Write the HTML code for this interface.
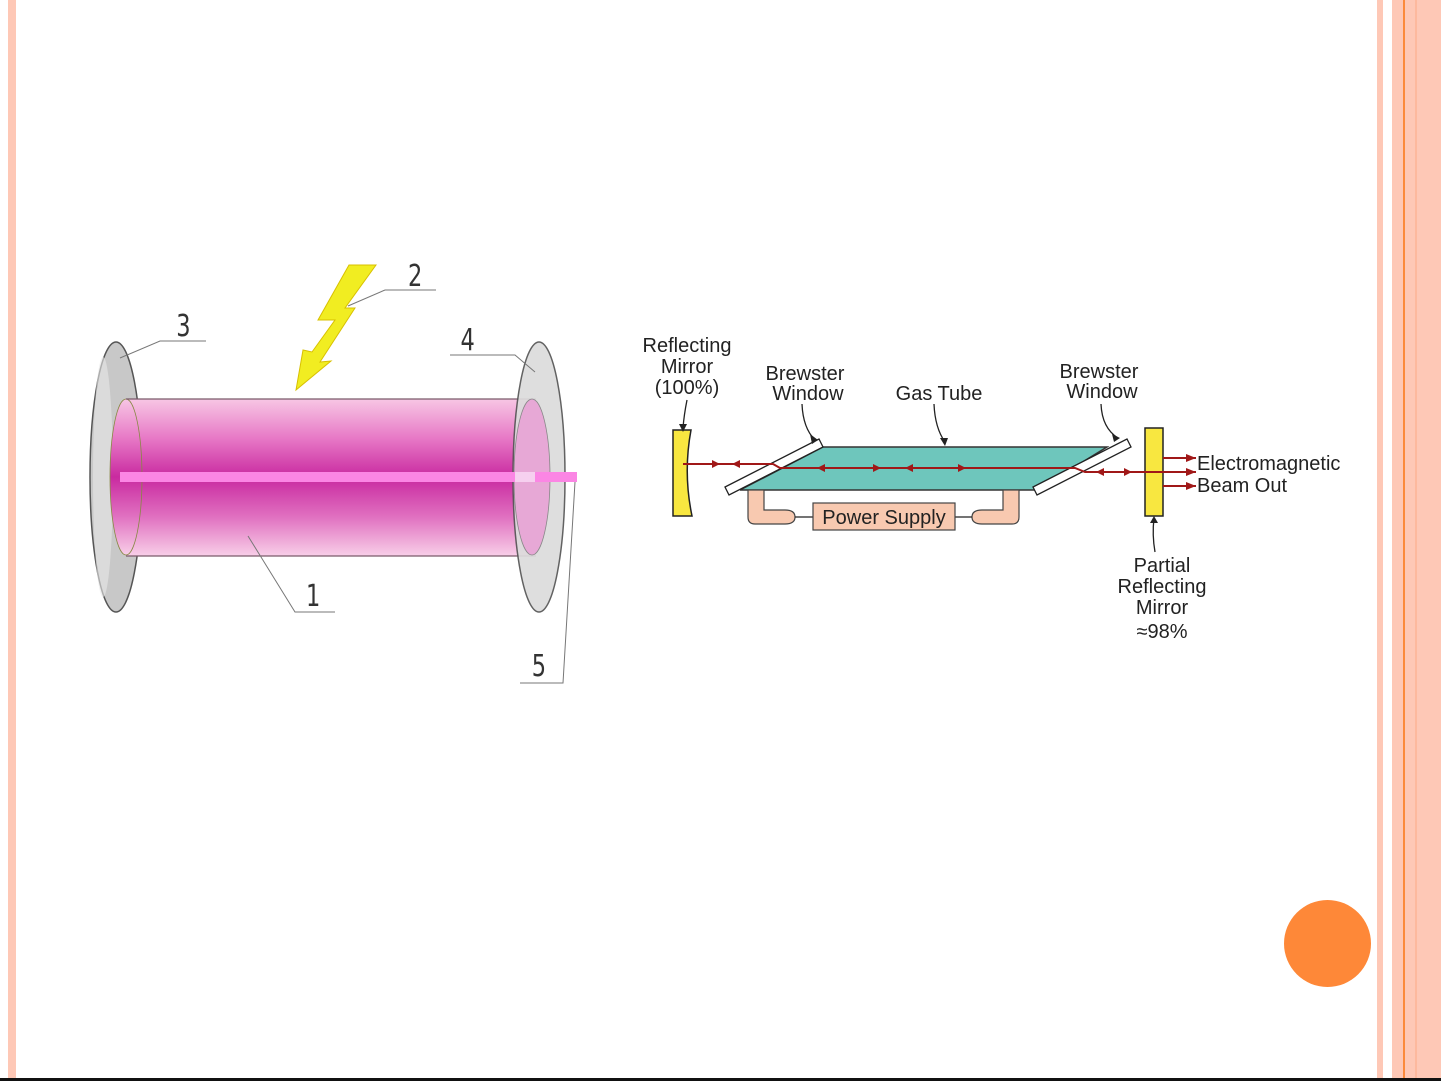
<!DOCTYPE html>
<html><head><meta charset="utf-8"><style>
html,body{margin:0;padding:0;background:#fff;}
body{width:1441px;height:1081px;position:relative;overflow:hidden;font-family:"Liberation Sans",sans-serif;}
.s{position:absolute;top:0;height:1081px;background:#fec8b6;}
</style></head><body>
<div class="s" style="left:8px;width:8px"></div>
<div class="s" style="left:1377px;width:6px"></div>
<div class="s" style="left:1392px;width:49px"></div>
<div class="s" style="left:1403px;width:2px;background:#fb8a3c"></div>
<div class="s" style="left:1415px;width:2px;background:#fdb99e"></div>
<div style="position:absolute;left:0;top:1078px;width:1441px;height:3px;background:#111"></div>
<div style="position:absolute;left:1284px;top:900px;width:87px;height:87px;border-radius:50%;background:#fe8838"></div>
<svg width="1441" height="1081" style="position:absolute;left:0;top:0" font-family="Liberation Sans, sans-serif">
<defs>
<linearGradient id="tg" x1="0" y1="0" x2="0" y2="1">
<stop offset="0" stop-color="#f7c6e4"/><stop offset="0.25" stop-color="#e779c6"/><stop offset="0.5" stop-color="#c92aa0"/><stop offset="0.75" stop-color="#e070c0"/><stop offset="1" stop-color="#f8cfe8"/>
</linearGradient>
</defs>
<!-- left disc -->
<ellipse cx="116" cy="477" rx="26" ry="135" fill="#c8c8c8" stroke="#555" stroke-width="1.5"/>
<ellipse cx="103" cy="477" rx="10" ry="120" fill="#e8e8e8" opacity="0.6"/>
<!-- tube -->
<rect x="126" y="399" width="410" height="157" fill="url(#tg)"/>
<ellipse cx="126" cy="477" rx="16" ry="78" fill="url(#tg)" stroke="#884" stroke-width="0.8"/>
<line x1="126" y1="399" x2="536" y2="399" stroke="#7a5a6a" stroke-width="1.2"/>
<line x1="126" y1="556" x2="536" y2="556" stroke="#7a5a6a" stroke-width="1.2"/>
<!-- right disc -->
<ellipse cx="539" cy="477" rx="26" ry="135" fill="#dcdcdc" stroke="#555" stroke-width="1.5" opacity="0.92"/>
<ellipse cx="532" cy="477" rx="18" ry="78" fill="#e7a8d6" stroke="#888" stroke-width="0.8"/>
<!-- beam -->
<rect x="120" y="472" width="457" height="10" fill="#fb86e4"/>
<rect x="515" y="472" width="20" height="10" fill="#f6d0ef"/>
<!-- lightning -->
<polygon points="349,265 376,265 345,308 355,308 320,362 331,361 296,390 303,350 312,352 335,320 318,320" fill="#f1ed21" stroke="#d8c000" stroke-width="1"/>
<!-- leaders -->
<g stroke="#777" stroke-width="1" fill="none">
<path d="M120,358 L160,341 L206,341"/>
<path d="M348,306 L385,290 L436,290"/>
<path d="M535,372 L515,355 L450,355"/>
<path d="M248,536 L295,612 L335,612"/>
<path d="M575,482 L563,683 L520,683"/>
</g>
<g font-size="30" fill="#333" font-family="DejaVu Sans, sans-serif" transform="scale(0.75,1)">
<text x="235" y="336">3</text>
<text x="544" y="286">2</text>
<text x="614" y="350">4</text>
<text x="408" y="606">1</text>
<text x="709" y="676">5</text>
</g>

<!-- right diagram -->
<!-- left mirror -->
<path d="M673,430 L691,430 Q683,473 692,516 L673,516 Z" fill="#f8e740" stroke="#222" stroke-width="1.5"/>
<!-- gas tube -->
<polygon points="823,447 1107,447 1037,490 740,490" fill="#6ec6bc" stroke="#333" stroke-width="1.5"/>
<!-- brewster windows -->
<polygon points="725,487 819,439 823,447 729,495" fill="#fff" stroke="#222" stroke-width="1.3"/>
<polygon points="1033,487 1127,439 1131,447 1037,495" fill="#fff" stroke="#222" stroke-width="1.3"/>
<!-- electrodes -->
<path d="M748,490 L764,490 L764,510 L785,510 Q795,510 795,517 Q795,524 785,524 L755,524 Q748,524 748,517 Z" fill="#f8c9b0" stroke="#444" stroke-width="1.2"/>
<path d="M1019,490 L1003,490 L1003,510 L982,510 Q972,510 972,517 Q972,524 982,524 L1012,524 Q1019,524 1019,517 Z" fill="#f8c9b0" stroke="#444" stroke-width="1.2"/>
<line x1="795" y1="517" x2="813" y2="517" stroke="#222" stroke-width="1.2"/>
<line x1="955" y1="517" x2="972" y2="517" stroke="#222" stroke-width="1.2"/>
<rect x="813" y="503" width="142" height="27" fill="#f8c9b0" stroke="#444" stroke-width="1.2"/>
<text x="884" y="524" font-size="20" text-anchor="middle" fill="#222">Power Supply</text>
<!-- partial mirror -->
<rect x="1145" y="428" width="18" height="88" fill="#f8e740" stroke="#222" stroke-width="1.5"/>
<!-- beams -->
<g stroke="#a01818" stroke-width="2" fill="none">
<path d="M683,464 L773,464 L780,468 L1075,468 L1085,472 L1196,472"/>
<path d="M1163,458 L1196,458"/>
<path d="M1163,486 L1196,486"/>
</g>
<g fill="#a01818">
<polygon points="712,460 720,464 712,468"/>
<polygon points="740,460 732,464 740,468"/>
<polygon points="825,464 817,468 825,472"/>
<polygon points="873,464 881,468 873,472"/>
<polygon points="913,464 905,468 913,472"/>
<polygon points="958,464 966,468 958,472"/>
<polygon points="1104,468 1096,472 1104,476"/>
<polygon points="1124,468 1132,472 1124,476"/>
<polygon points="1186,454 1196,458 1186,462"/>
<polygon points="1186,468 1196,472 1186,476"/>
<polygon points="1186,482 1196,486 1186,490"/>
</g>
<!-- label arrows -->
<g stroke="#222" stroke-width="1.3" fill="none">
<path d="M687,400 Q684,415 683,428"/>
<path d="M802,404 Q803,428 815,440"/>
<path d="M934,404 Q935,428 945,442"/>
<path d="M1101,404 Q1102,428 1118,438"/>
<path d="M1155,552 Q1152,535 1154,518"/>
</g>
<g fill="#222">
<polygon points="679,424 687,424 683,432"/>
<polygon points="810,434 818,440 812,444"/>
<polygon points="940,438 948,438 945,446"/>
<polygon points="1112,434 1120,438 1114,442"/>
<polygon points="1150,523 1158,523 1154,516"/>
</g>
<g font-size="20" fill="#222" text-anchor="middle">
<text x="687" y="352">Reflecting</text>
<text x="687" y="373">Mirror</text>
<text x="687" y="394">(100%)</text>
<text x="805" y="380">Brewster</text>
<text x="808" y="400">Window</text>
<text x="939" y="400">Gas Tube</text>
<text x="1099" y="378">Brewster</text>
<text x="1102" y="398">Window</text>
<text x="1162" y="572">Partial</text>
<text x="1162" y="593">Reflecting</text>
<text x="1162" y="614">Mirror</text>
<text x="1162" y="638">≈98%</text>
</g>
<g font-size="20" fill="#222">
<text x="1197" y="470">Electromagnetic</text>
<text x="1197" y="492">Beam Out</text>
</g>
</svg>
</body></html>
